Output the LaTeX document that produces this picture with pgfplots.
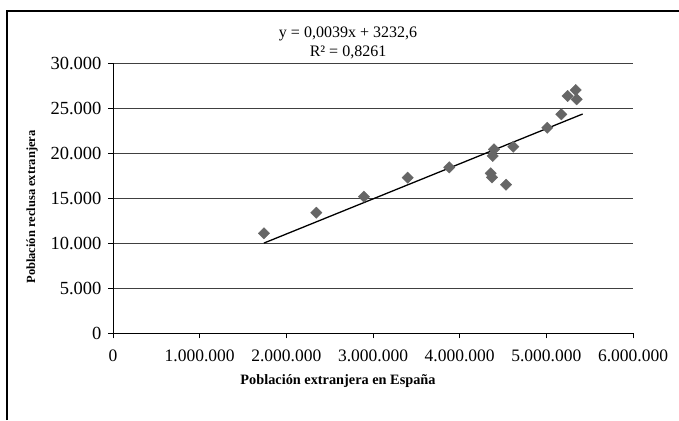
\documentclass[border=0pt]{standalone}
\usepackage{fontspec}
\setmainfont{Liberation Serif}
\usepackage{pgfplots}
\pgfplotsset{compat=1.18}
\definecolor{markgray}{RGB}{102,102,102}

\begin{document}
\begin{tikzpicture}
\path[use as bounding box] (0pt,0pt) rectangle (679pt,420pt);
% chart frame (only top and left edges are visible)
\draw[line width=1.4pt] (7pt,0pt) -- (7pt,409pt) -- (679pt,409pt);

\begin{axis}[%
at={(113pt,86.7pt)},
anchor=south west,
scale only axis,
width=520pt,
height=270pt,
xmin=0, xmax=6000000,
ymin=0, ymax=30000,
scaled ticks=false,
axis x line*=bottom,
axis y line*=left,
axis line style={black, line width=0.8pt},
tick align=outside,
major tick length=5pt,
tick style={black, line width=0.8pt},
xtick={0,1000000,2000000,3000000,4000000,5000000,6000000},
xticklabels={0,1.000.000,2.000.000,3.000.000,4.000.000,5.000.000,6.000.000},
ytick={0,5000,10000,15000,20000,25000,30000},
yticklabels={0,5.000,10.000,15.000,20.000,25.000,30.000},
xticklabel style={font=\fontsize{17.5}{20}\selectfont, yshift=-8pt},
yticklabel style={font=\fontsize{18.5}{20}\selectfont, xshift=-3pt},
ymajorgrids,
grid style={black!75, line width=0.8pt},
]
\addplot[only marks, mark=square*, mark size=4pt,
  mark options={rotate=45, fill=markgray, draw=markgray}] table {%
x y
1742000 11110
2346000 13400
2896000 15180
3400000 17290
3880000 18440
4396000 20440
4381000 19700
4358000 17780
4373000 17330
4535000 16510
4619000 20730
5011000 22840
5173000 24330
5246000 26370
5339000 27030
5350000 26000
};
% linear trend line, y = 0.0039x + 3232.6
\addplot[black, line width=1.3pt] coordinates {(1742000,10026) (5419000,24366)};
\end{axis}

\node[font=\fontsize{16}{19}\selectfont, align=center] at (348pt,377.5pt)
  {y = 0,0039x + 3232,6\\R² = 0,8261};
\node[font=\bfseries\fontsize{14.3}{16}\selectfont] at (338pt,39pt)
  {Población extranjera en España};
\node[font=\bfseries\fontsize{12.5}{14}\selectfont, rotate=90] at (32pt,213pt)
  {Población reclusa extranjera};
\end{tikzpicture}
\end{document}
